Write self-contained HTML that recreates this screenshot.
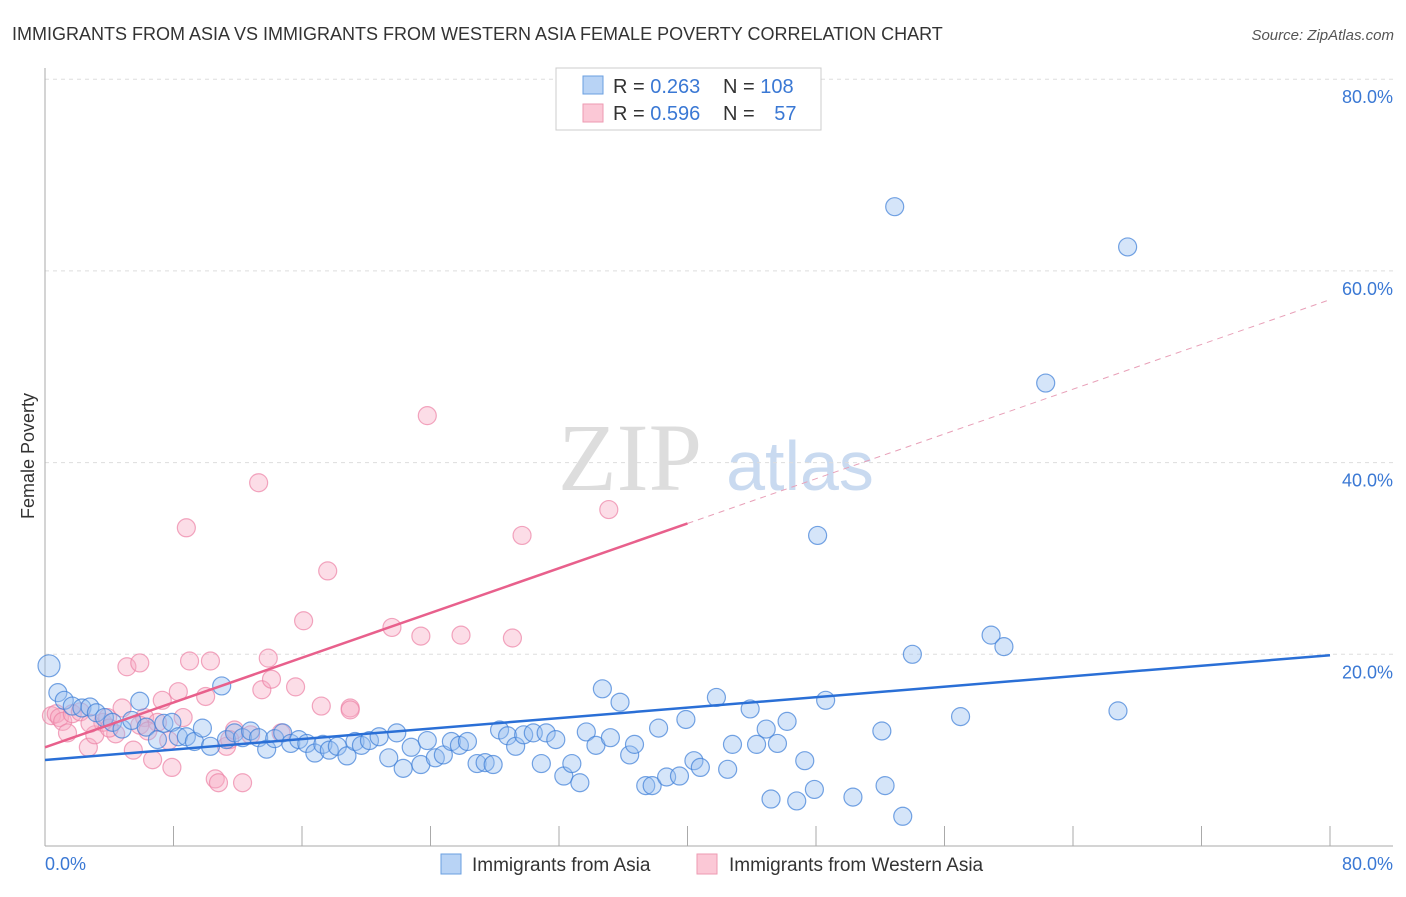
<!DOCTYPE html>
<html><head><meta charset="utf-8"><style>
body{margin:0;background:#fff;font-family:"Liberation Sans",sans-serif;}
svg text{font-family:"Liberation Sans",sans-serif;}
</style></head><body>
<svg id="c" width="1406" height="892" xmlns="http://www.w3.org/2000/svg">
<text x="12" y="40" font-size="18" fill="#333">IMMIGRANTS FROM ASIA VS IMMIGRANTS FROM WESTERN ASIA FEMALE POVERTY CORRELATION CHART</text>
<text x="1394" y="40" font-size="15" fill="#555" font-style="italic" text-anchor="end">Source: ZipAtlas.com</text>
<text x="630" y="490" font-size="96" fill="#ddd" font-family="Liberation Serif" text-anchor="middle" style="font-family:'Liberation Serif',serif">ZIP</text>
<text x="800" y="490" font-size="70" fill="#c9daf0" text-anchor="middle">atlas</text>
<text transform="translate(34,456) rotate(-90)" font-size="18" fill="#333" text-anchor="middle">Female Poverty</text>
<g id="grid"></g><g id="pts"></g><g id="lines"></g>
<g>
<rect x="556" y="68" width="265" height="62" fill="#fff" stroke="#ccc"/>
<rect x="583" y="76" width="20" height="18" fill="#b8d3f5" stroke="#6a9fe0"/>
<rect x="583" y="104" width="20" height="18" fill="#fbc8d6" stroke="#ee9ab2"/>
<text x="613" y="93" font-size="20" fill="#333">R = <tspan fill="#3a78d4">0.263</tspan></text>
<text x="723" y="93" font-size="20" fill="#333">N = <tspan fill="#3a78d4">108</tspan></text>
<text x="613" y="120" font-size="20" fill="#333">R = <tspan fill="#3a78d4">0.596</tspan></text>
<text x="723" y="120" font-size="20" fill="#333">N = <tspan fill="#3a78d4" dx="14">57</tspan></text>
</g>
<g>
<rect x="441" y="854" width="20" height="20" fill="#b8d3f5" stroke="#6a9fe0"/>
<text x="472" y="871" font-size="19" fill="#333">Immigrants from Asia</text>
<rect x="697" y="854" width="20" height="20" fill="#fbc8d6" stroke="#ee9ab2"/>
<text x="729" y="871" font-size="19" fill="#333">Immigrants from Western Asia</text>
</g>
</svg>
<script>
const yTicks=[20,40,60,80];
const xTickLabels=["0.0%","80.0%"];
const asiaX=[0.25,0.8,1.2,1.7,2.3,2.8,3.2,3.7,4.2,4.8,5.4,5.9,6.3,7.0,7.4,7.9,8.3,8.8,9.3,9.8,10.3,11.0,11.3,11.8,12.3,12.8,13.3,13.8,14.3,14.8,15.3,15.8,16.3,16.8,17.3,17.7,18.2,18.8,19.3,19.7,20.2,20.8,21.4,21.9,22.3,22.8,23.4,23.8,24.3,24.8,25.3,25.8,26.3,26.9,27.4,27.9,28.3,28.8,29.3,29.8,30.4,30.9,31.2,31.8,32.3,32.8,33.3,33.7,34.3,34.7,35.2,35.8,36.4,36.7,37.4,37.8,38.2,38.7,39.5,39.9,40.4,40.8,41.8,42.5,42.8,43.9,44.3,44.9,45.2,45.6,46.2,46.8,47.3,47.9,48.1,48.6,50.3,52.1,52.3,52.9,53.4,54.0,57.0,58.9,59.7,62.3,66.8,67.4];
const asiaY=[18.8,16.0,15.2,14.6,14.4,14.5,13.9,13.4,12.9,12.2,13.1,15.1,12.4,11.1,12.8,12.9,11.4,11.4,10.9,12.3,10.4,16.7,11.1,11.8,11.3,12.0,11.3,10.1,11.2,11.8,10.7,11.1,10.7,9.7,10.6,10.0,10.4,9.4,10.9,10.5,11.0,11.4,9.2,11.8,8.1,10.3,8.5,11.0,9.2,9.5,10.9,10.5,10.9,8.6,8.7,8.5,12.1,11.5,10.4,11.6,11.8,8.6,11.8,11.1,7.3,8.6,6.6,11.9,10.5,16.4,11.3,15.0,9.5,10.6,6.3,6.3,12.3,7.2,7.3,13.2,8.9,8.2,15.5,8.0,10.6,14.3,10.6,12.2,4.9,10.7,13.0,4.7,8.9,5.9,32.4,15.2,5.1,12.0,6.3,66.7,3.1,20.0,13.5,22.0,20.8,48.3,14.1,62.5];
const wX=[0.4,0.7,0.9,1.1,1.4,1.7,2.2,2.7,3.1,3.6,3.9,4.4,4.8,5.1,5.5,5.9,6.2,6.7,7.0,7.3,7.7,7.9,8.3,8.6,8.8,9.0,10.0,10.3,10.6,10.8,11.3,11.8,12.3,13.3,13.5,13.9,14.1,14.7,15.6,16.1,17.2,17.6,19.0,21.6,23.4,23.8,25.9,29.1,29.7,35.1,2.8,5.9,11.5,12.8,6.4,19.0,4.0];
const wY=[13.6,13.8,13.4,13.0,11.8,13.8,14.0,10.3,11.6,12.9,13.4,11.7,14.4,18.7,10.0,19.1,13.4,9.0,12.9,15.2,11.0,8.2,16.1,13.4,33.2,19.3,15.6,19.3,7.0,6.6,10.4,12.1,6.6,37.9,16.3,19.6,17.4,11.8,16.6,23.5,14.6,28.7,14.4,22.8,21.9,44.9,22.0,21.7,32.4,35.1,12.8,12.6,11.1,11.6,12.0,14.2,12.3];
const asiaLine=[8.97,19.9];
const wLine=[10.3,57.0];
const X0=45,X1=1330,Y0=846,PY=9.585;
const sx=v=>X0+(X1-X0)*v/80, sy=v=>Y0-v*PY;
const NS="http://www.w3.org/2000/svg";
function mk(t,a,p){const e=document.createElementNS(NS,t);for(const k in a)e.setAttribute(k,a[k]);p.appendChild(e);return e;}
const g=document.getElementById('grid');
yTicks.forEach(v=>{
 const l=mk('line',{x1:X0,x2:1393,y1:sy(v),y2:sy(v),stroke:'#ddd','stroke-dasharray':'4,4'},g);
 
 
 const t=mk('text',{x:1393,y:sy(v)+24,'font-size':18,fill:'#3a78d4','text-anchor':'end'},g);
 t.textContent=v.toFixed(1)+'%';
 
 
});
let ax=mk('line',{x1:X0,x2:X0,y1:68,y2:Y0,stroke:'#aaa'},g);


let bx=mk('line',{x1:X0,x2:1393,y1:Y0,y2:Y0,stroke:'#aaa'},g);


for(let i=0;i<=10;i++){const x=sx(i*8);const tk=mk('line',{x1:x,x2:x,y1:826,y2:Y0,stroke:'#aaa'},g);
 
 }
const xl=mk('text',{x:45,y:870,'font-size':18,fill:'#3a78d4'},g);xl.textContent=xTickLabels[0];


const xr=mk('text',{x:1393,y:870,'font-size':18,fill:'#3a78d4','text-anchor':'end'},g);xr.textContent=xTickLabels[1];


const p=document.getElementById('pts');
wX.forEach((x,i)=>{const c=mk('circle',{cx:sx(x),cy:sy(wY[i]),r:9,fill:'rgba(248,170,195,0.4)',stroke:'rgba(236,130,165,0.7)','stroke-width':1.2},p);
 
 });
asiaX.forEach((x,i)=>{const c=mk('circle',{cx:sx(x),cy:sy(asiaY[i]),r:i==0?11:9,fill:'rgba(150,190,240,0.4)',stroke:'rgba(60,125,215,0.7)','stroke-width':1.2},p);
 
 });
const L=document.getElementById('lines');
const wm=wLine[0]+(wLine[1]-wLine[0])*0.5;
let a=mk('line',{x1:sx(0),y1:sy(asiaLine[0]),x2:sx(80),y2:sy(asiaLine[1]),stroke:'#2a6fd6','stroke-width':2.5},L);


let w=mk('line',{x1:sx(0),y1:sy(wLine[0]),x2:sx(40),y2:sy(wm),stroke:'#e8608c','stroke-width':2.5},L);


let wd=mk('line',{x1:sx(40),y1:sy(wm),x2:sx(80),y2:sy(wLine[1]),stroke:'#e8a0b8','stroke-width':1,'stroke-dasharray':'6,5'},L);


</script>
</body></html>
